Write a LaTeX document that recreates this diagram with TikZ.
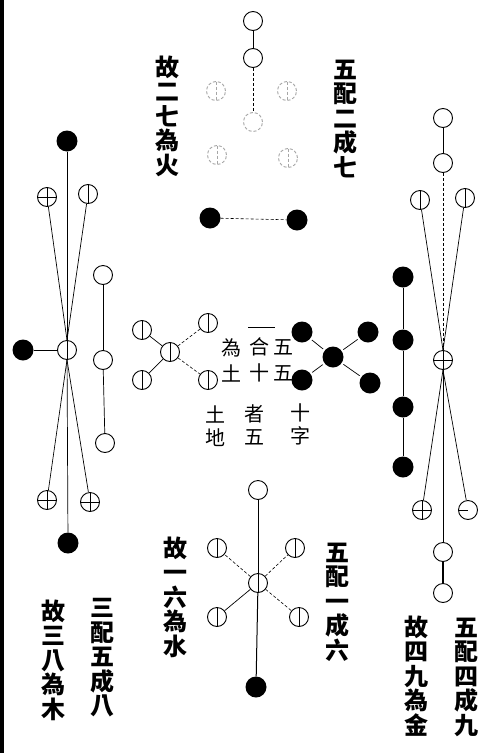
\documentclass[tikz,border=0pt]{standalone}
\usepackage{fontspec}
\newfontfamily\cjk{Noto Sans CJK TC}
\usetikzlibrary{calc}

\tikzset{
    yang/.style={circle, draw, line width=0.9pt, minimum size=19pt, inner sep=0pt, fill=white},
    yin/.style={circle, fill=black, minimum size=21pt, inner sep=0pt},
    vbar/.style={yang, path picture={\draw[semithick] (path picture bounding box.north) -- (path picture bounding box.south);}},
    hbar/.style={yang, path picture={\draw[semithick] (path picture bounding box.west) -- (path picture bounding box.center);}},
    crossmark/.style={yang, path picture={
            \draw[semithick] (path picture bounding box.north) -- (path picture bounding box.south);
            \draw[semithick] (path picture bounding box.west) -- (path picture bounding box.east);}},
    faint/.style={draw=black!35, densely dashed},
    link/.style={line width=0.7pt},
    dashlink/.style={line width=0.6pt, densely dashed},
    column/.style={font=\cjk\bfseries\fontsize{24}{24.5}\selectfont, align=center, inner sep=0pt},
    smallcol/.style={font=\cjk\fontsize{20}{#1}\selectfont, align=center, inner sep=0pt},
    smallcol/.default=26
}

\begin{document}
\begin{tikzpicture}[x=1pt, y=-1pt]
    \useasboundingbox (0,0) rectangle (493,753);
    \fill (0,0) rectangle (4,753);

    % --- Fire: two and seven ---
    \node[yang] (f1) at (253,21) {};
    \node[yang] (f2) at (253,58) {};
    \node[yang, faint] (f3) at (253,122) {};
    \node[vbar, faint] (fa) at (216,91) {};
    \node[vbar, faint] (fb) at (287,91) {};
    \node[vbar, faint] (fc) at (217,155) {};
    \node[vbar, faint] (fd) at (288,158) {};
    \node[yin] (fk1) at (210,218) {};
    \node[yin] (fk2) at (297,220) {};
    \draw[link] (f1) -- (f2);
    \draw[dashlink] (f2) -- (f3);
    \draw[dashlink] (fk1) -- (fk2);
    \node[column] (fire_left) at (167,116) {故\\二\\七\\為\\火};
    \node[column] (fire_right) at (345,119) {五\\配\\二\\成\\七};

    % --- Wood: three and eight ---
    \node[yin] (wtop) at (67,141) {};
    \node[crossmark] (wa) at (47,197) {};
    \node[vbar] (wb) at (88,194) {};
    \node[vbar] (wc) at (67,350) {};
    \node[yin] (wl) at (23,350) {};
    \node[crossmark] (wd) at (47,500) {};
    \node[crossmark] (we) at (90,502) {};
    \node[yin] (wbot) at (68,543) {};
    \node[yang] (w1) at (103,275) {};
    \node[yang] (w2) at (103,360) {};
    \node[yang] (w3) at (105,443) {};
    \draw[link] (wtop) -- (wc);
    \draw[link] (wc) -- (wbot);
    \draw[link] (wa) -- (wc.north);
    \draw[link] (wb) -- (wc.north);
    \draw[link] (wc.south) -- (wd);
    \draw[link] (wc.south) -- (we);
    \draw[link] (wl) -- (wc);
    \draw[link] (w1) -- (w2);
    \draw[link] (w2) -- (w3);
    \node[column] (wood_left) at (53,660) {故\\三\\八\\為\\木};
    \node[column] (wood_right) at (102,658) {三\\配\\五\\成\\八};

    % --- Metal: four and nine ---
    \node[yang] (m1) at (443,118) {};
    \node[yang] (m2) at (443,163) {};
    \node[vbar] (ma) at (420,200) {};
    \node[vbar] (mb) at (465,198) {};
    \node[crossmark] (mc) at (443,360) {};
    \node[crossmark] (md) at (422,510) {};
    \node[hbar] (me) at (468,510) {};
    \node[yang] (m3) at (443,552) {};
    \node[yang] (m4) at (443,593) {};
    \foreach \i/\y in {1/277, 2/340, 3/407, 4/467}
        \node[yin] (k\i) at (403,\y) {};
    \draw[link] (m1) -- (m2);
    \draw[dashlink] (m2) -- (mc);
    \draw[link] (mc) -- (m3);
    \draw[line width=1.2pt] (m3) -- (m4);
    \draw[link] (ma) -- (mc.north);
    \draw[link] (mb) -- (mc.north);
    \draw[link] (mc.south) -- (md);
    \draw[link] (mc.south) -- (me);
    \draw[link] (k1) -- (k2) -- (k3) -- (k4);
    \node[column] (metal_left) at (416,676) {故\\四\\九\\為\\金};
    \node[column] (metal_right) at (466,677) {五\\配\\四\\成\\九};

    % --- Earth: five and ten ---
    \node[vbar] (e0) at (170,352) {};
    \node[vbar] (e1) at (142,330) {};
    \node[vbar] (e2) at (142,380) {};
    \node[vbar] (e3) at (208,323) {};
    \node[vbar] (e4) at (208,380) {};
    \draw[link] (e0) -- (e1);
    \draw[link] (e0) -- (e2);
    \draw[dashlink] (e0) -- (e3);
    \draw[dashlink] (e0) -- (e4);
    \node[yin] (b0) at (333,357) {};
    \node[yin] (b1) at (302,332) {};
    \node[yin] (b2) at (368,332) {};
    \node[yin] (b3) at (302,380) {};
    \node[yin] (b4) at (370,383) {};
    \foreach \j in {1,...,4}
        \draw[link, shorten <=2pt, shorten >=2pt] (b0) -- (b\j);
    \coordinate (bar_l) at (248,327);
    \coordinate (bar_r) at (275,327);
    \draw[link] (bar_l) -- (bar_r);
    \node[smallcol] (earth_a) at (283,360) {五\\五};
    \node[smallcol] (earth_b) at (259,360) {合\\十};
    \node[smallcol] (earth_c) at (231,360) {為\\土};
    \node[smallcol=23] (earth_d) at (300,424) {十\\字};
    \node[smallcol=23] (earth_e) at (254,425) {者\\五};
    \node[smallcol=23] (earth_f) at (215,426) {土\\地};

    % --- Water: one and six ---
    \node[yang] (s0) at (258,490) {};
    \node[vbar] (s1) at (258,583) {};
    \node[vbar] (sa) at (217,548) {};
    \node[vbar] (sb) at (295,548) {};
    \node[vbar] (sc) at (217,617) {};
    \node[vbar] (sd) at (299,617) {};
    \node[yin] (sk) at (256,687) {};
    \draw[link] (s0) -- (s1);
    \draw[line width=1pt] (s1) -- (sk);
    \draw[dashlink] (s1) -- (sa);
    \draw[dashlink] (s1) -- (sb);
    \draw[link] (s1) -- (sc);
    \draw[dashlink] (s1) -- (sd);
    \node[column] (water_left) at (175,597) {故\\一\\六\\為\\水};
    \node[column] (water_right) at (337,602) {五\\配\\一\\成\\六};

\end{tikzpicture}
\end{document}
